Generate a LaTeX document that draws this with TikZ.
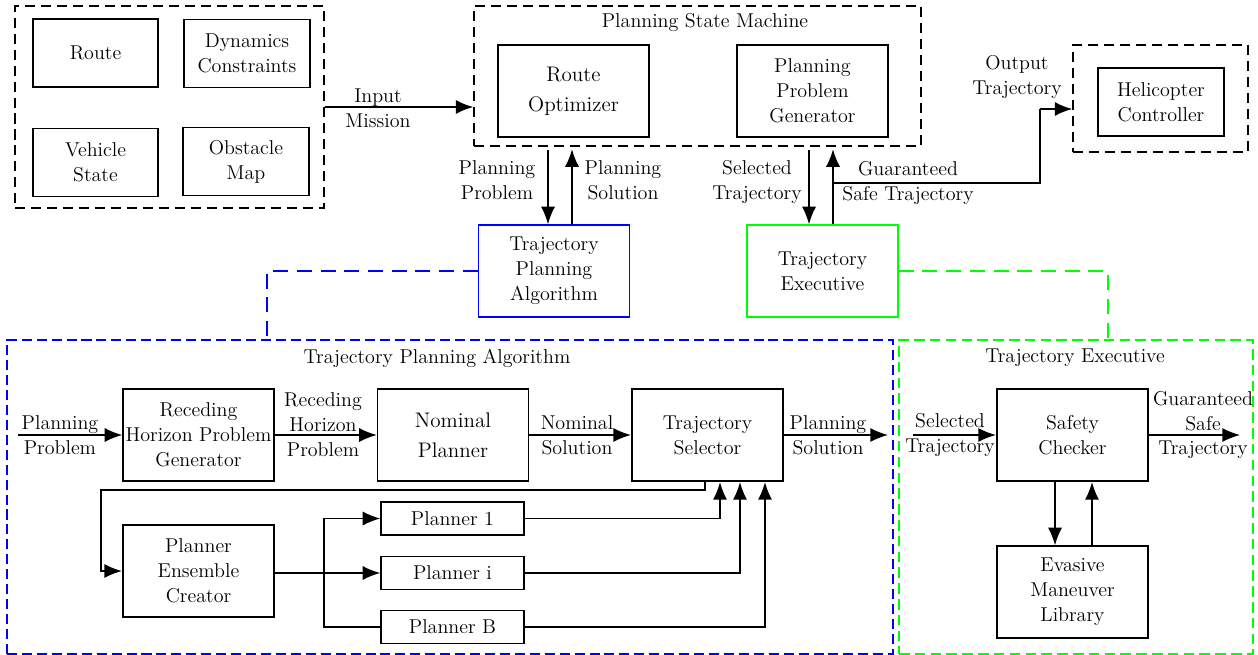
\documentclass[tikz,border=0pt]{standalone}
\usetikzlibrary{arrows.meta,calc}
\begin{document}
\begin{tikzpicture}[x=0.02cm,y=-0.02cm,
  font=\fontsize{11.4}{14.2}\selectfont,
  box/.style={draw, line width=0.8pt, inner sep=1pt, align=center, minimum width=3.02cm, minimum height=1.84cm},
  sbox/.style={draw, line width=0.8pt, inner sep=1pt, align=center, minimum width=2.52cm, minimum height=1.36cm},
  tbox/.style={box, line width=1.2pt},
  pbox/.style={draw, line width=0.8pt, inner sep=1pt, minimum width=2.86cm, minimum height=0.66cm},
  cont/.style={draw, line width=0.8pt, dash pattern=on 5.7pt off 3.4pt, inner sep=0pt},
  lbl/.style={align=center, inner sep=0pt},
  bigtxt/.style={font=\fontsize{12}{17}\selectfont},
  arr/.style={line width=0.9pt, -{Latex[length=10pt,width=8pt]}},
  ln/.style={line width=0.9pt},
  bdash/.style={draw=blue, line width=0.8pt, dash pattern=on 5.7pt off 2.8pt},
  gdash/.style={draw=green, line width=0.8pt, dash pattern=on 6pt off 3pt},
  bcon/.style={draw=blue, line width=0.8pt, dash pattern=on 8.5pt off 5pt},
  gcon/.style={draw=green, line width=0.8pt, dash pattern=on 8.5pt off 5pt},
]
\useasboundingbox (0,0) rectangle (1258,655);

% ---------- top left inputs ----------
\node[cont, minimum width=6.18cm, minimum height=4.04cm] (inp) at (169.5,107) {};
\node[sbox, minimum width=2.5cm] (route) at (95.5,53) {Route};
\node[sbox] (dyn) at (247,53.5) {Dynamics\\Constraints};
\node[sbox, minimum width=2.5cm] (veh) at (95.5,162.5) {Vehicle\\State};
\node[sbox] (obs) at (246,161.5) {Obstacle\\Map};

% ---------- planning state machine ----------
\node[cont, minimum width=8.94cm, minimum height=2.8cm] (psm) at (697.5,76) {};
\node[lbl] (psmt) at (705,23) {Planning State Machine};
\node[box, bigtxt] (ro) at (573.5,91) {Route\\Optimizer};
\node[box] (ppg) at (812.5,91) {Planning\\Problem\\Generator};

% ---------- helicopter ----------
\node[cont, minimum width=3.5cm, minimum height=2.14cm] (heli) at (1160.5,98.5) {};
\node[sbox] (hc) at (1161,102) {Helicopter\\Controller};

% ---------- middle boxes ----------
\node[box, draw=blue] (tpa) at (554,271) {Trajectory\\Planning\\Algorithm};
\node[box, draw=green] (te) at (822.5,271) {Trajectory\\Executive};

% top connectors
\draw[arr] (inp.east |- 0,107) -- (psm.west |- 0,107);
\node[lbl] (lin) at (378,108) {Input\\Mission};

\draw[arr, shorten <=0.07cm] ([xshift=-0.12cm]tpa.north |- psm.south) -- ([xshift=-0.12cm]tpa.north);
\draw[arr, shorten >=0.05cm] ([xshift=0.36cm]tpa.north) -- ([xshift=0.36cm]tpa.north |- psm.south);
\node[lbl] (lpp) at (497,180) {Planning\\Problem};
\node[lbl] (lps) at (623,180) {Planning\\Solution};

\draw[arr, shorten <=0.07cm] ([xshift=-0.27cm]te.north |- psm.south) -- ([xshift=-0.27cm]te.north);
\draw[arr, shorten >=0.05cm] ([xshift=0.21cm]te.north) -- ([xshift=0.21cm]te.north |- psm.south);
\node[lbl] (lst) at (757,182) {Selected\\Trajectory};

\coordinate (gstart) at (833,183);
\coordinate (gturn) at (1040,109);
\draw[ln] (gstart) -| (gturn);
\draw[arr] (gturn) -- (gturn -| heli.west);
\node[lbl] (lgst) at (908,183) {Guaranteed\\Safe Trajectory};
\node[lbl] (lot) at (1017,77) {Output\\Trajectory};

% ---------- bottom containers ----------
\node[bdash, minimum width=17.72cm, minimum height=6.28cm, inner sep=0pt] (blue) at (450,497) {};
\node[gdash, minimum width=7.08cm, minimum height=6.28cm, inner sep=0pt] (grn) at (1076,497) {};
\node[lbl] (tblue) at (437,358) {Trajectory Planning Algorithm};
\node[lbl] (tgrn) at (1075,358) {Trajectory Executive};

\coordinate (bc) at (267,340);
\coordinate (gc) at (1108,340);
\draw[bcon] (tpa.west) -| (bc);
\draw[gcon] (te.east) -| (gc);

% ---------- bottom boxes ----------
\node[box] (rhpg) at (198.5,435) {Receding\\Horizon Problem\\Generator};
\node[box, bigtxt] (np) at (453,435) {Nominal\\Planner};
\node[tbox] (ts) at (707.5,435) {Trajectory\\Selector};
\node[tbox] (sc) at (1072.5,435) {Safety\\Checker};
\node[box] (eml) at (1072.5,592) {Evasive\\Maneuver\\Library};
\node[tbox] (pec) at (198.5,571) {Planner\\Ensemble\\Creator};
\node[pbox] (p1) at (452.5,518.5) {Planner 1};
\node[pbox] (pi) at (452.5,573) {Planner i};
\node[pbox] (pb) at (452.5,627) {Planner B};

% bottom top-row connectors
\coordinate (pin) at (18,435);
\draw[arr] (pin) -- (rhpg.west);
\node[lbl] (lpp2) at (60,435) {Planning\\Problem};
\draw[arr] (rhpg.east) -- (np.west);
\node[lbl] (lrhp) at (323,425) {Receding\\Horizon\\Problem};
\draw[arr] (np.east) -- (ts.west);
\node[lbl] (lns) at (577,435) {Nominal\\Solution};
\coordinate (tsout) at (888,435);
\draw[arr] (ts.east) -- (tsout);
\node[lbl] (lps2) at (828,435) {Planning\\Solution};
\coordinate (scin) at (913,435);
\draw[arr] (scin) -- (sc.west);
\node[lbl] (lst2) at (950,435) {Selected\\Trajectory};
\coordinate (scout) at (1240,435);
\draw[arr] (sc.east) -- (scout);
\node[lbl] (lgst2) at (1203,425) {Guaranteed\\Safe\\Trajectory};

\draw[arr] ([xshift=-0.35cm]sc.south) -- ([xshift=-0.35cm]eml.north);
\draw[arr] ([xshift=0.39cm]eml.north) -- ([xshift=0.39cm]sc.south);

% feedback
\coordinate (fb) at (101,490);
\draw[arr] ([xshift=-0.05cm]ts.south) |- (fb) |- (pec.west);

% ensemble
\coordinate (sp) at (324,573);
\draw[ln] (pec.east |- sp) -- (sp);
\draw[arr] (sp) -- (pi.west);
\draw[arr] (sp) |- (p1.west);
\draw[ln] (sp) |- (pb.west);

\draw[arr] (p1.east) -| ([xshift=0.25cm]ts.south);
\draw[arr] (pi.east) -| ([xshift=0.65cm]ts.south);
\draw[arr] (pb.east) -| ([xshift=1.15cm]ts.south);
\end{tikzpicture}
\end{document}
